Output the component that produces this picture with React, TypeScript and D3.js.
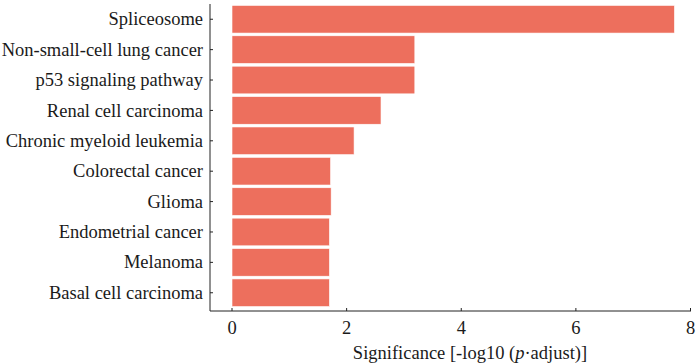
import { useMemo } from 'react';
import * as d3 from 'd3';

const pathways = [
	'Spliceosome',
	'Non-small-cell lung cancer',
	'p53 signaling pathway',
	'Renal cell carcinoma',
	'Chronic myeloid leukemia',
	'Colorectal cancer',
	'Glioma',
	'Endometrial cancer',
	'Melanoma',
	'Basal cell carcinoma',
];
const significance = [7.72, 3.19, 3.19, 2.6, 2.13, 1.72, 1.73, 1.7, 1.7, 1.7];
const xTicks = [0, 2, 4, 6, 8];

const width = 700;
const height = 364;
const textStyle = { fontFamily: '"Liberation Serif", serif' };
const fontSize = 18.5;
const barColor = '#ED6F5D';

export default function App() {
	// axis frame in page pixels
	const left = 210;
	const bottom = 311;

	const x = useMemo(() => d3.scaleLinear().domain([0, 8]).range([232, 690.5]), []);
	const y = useMemo(
		() => d3.scaleBand<string>().domain(pathways).range([4.5, 307.5]).paddingInner(0.09).paddingOuter(0.03),
		[]
	);

	return (
		<svg width={width} height={height} style={{ position: 'absolute', left: 0, top: 0, background: '#fff' }}>
			{pathways.map((p, i) => (
				<rect
					key={p}
					x={x(0)}
					y={y(p)}
					width={x(significance[i]) - x(0)}
					height={y.bandwidth()}
					fill={barColor}
					stroke="#fff"
					strokeWidth={0.6}
				/>
			))}

			{/* y axis */}
			<line x1={left} x2={left} y1={4} y2={bottom} stroke="#222" strokeWidth={1} />
			{pathways.map((p) => {
				const cy = (y(p) ?? 0) + y.bandwidth() / 2;
				return (
					<g key={p}>
						<line x1={left} x2={left + 3} y1={cy} y2={cy} stroke="#222" />
						<text
							x={left - 7}
							y={cy}
							dy="0.33em"
							textAnchor="end"
							fontSize={fontSize}
							fill="#1a1a1a"
							style={textStyle}
						>
							{p}
						</text>
					</g>
				);
			})}

			{/* x axis */}
			<line x1={left} x2={x(8) + 0.5} y1={bottom} y2={bottom} stroke="#222" strokeWidth={1} />
			{xTicks.map((t) => (
				<g key={t}>
					<line x1={x(t)} x2={x(t)} y1={bottom} y2={bottom - 3} stroke="#222" />
					<text x={x(t)} y={334} textAnchor="middle" fontSize={fontSize} fill="#1a1a1a" style={textStyle}>
						{t}
					</text>
				</g>
			))}
			<text x={470} y={359} textAnchor="middle" fontSize={fontSize} fill="#1a1a1a" style={textStyle}>
				Significance [-log10 (<tspan fontStyle="italic">p</tspan>·adjust)]
			</text>
		</svg>
	);
}
